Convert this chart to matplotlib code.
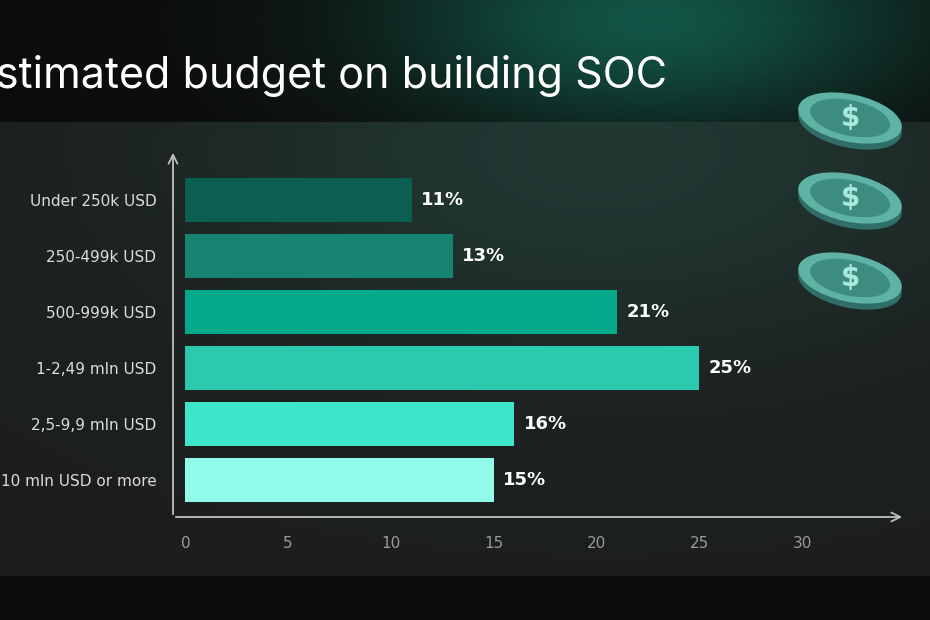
import numpy as np
import matplotlib.pyplot as plt
from matplotlib.patches import Ellipse, FancyArrowPatch

categories = ["Under 250k USD", "250-499k USD", "500-999k USD",
              "1-2,49 mln USD", "2,5-9,9 mln USD", "10 mln USD or more"]
values = [11, 13, 21, 25, 16, 15]
colors = ["#0b5f50", "#168470", "#03a98b", "#2bcaae", "#3ee6c9", "#90fbe8"]
xticks = [0, 5, 10, 15, 20, 25, 30]

W, H = 930, 620
fig = plt.figure(figsize=(9.3, 6.2), dpi=100)

# background
bg = fig.add_axes([0, 0, 1, 1])
yy, xx = np.mgrid[0:H, 0:W]
img = np.zeros((H, W, 3))
img[:] = np.array([0.05, 0.05, 0.05])
glow = np.exp(-((xx - 650) / 260.0) ** 2 - ((yy - 20) / 110.0) ** 2)
img += glow[..., None] * np.array([0.02, 0.28, 0.22])
panel = (yy >= 122) & (yy <= 575)
pg = np.exp(-((xx - 600) / 400.0) ** 2 - ((yy - 150) / 200.0) ** 2)
img[panel] = (np.array([0.11, 0.12, 0.12]) + pg[..., None] * np.array([0.02, 0.1, 0.08]))[panel]
bg.imshow(np.clip(img, 0, 1), extent=[0, W, H, 0], aspect="auto")
bg.set_xlim(0, W)
bg.set_ylim(H, 0)
bg.axis("off")
bg.text(-30, 88, "Estimated budget on building SOC", color="white",
        fontsize=31, fontfamily="Inter", va="baseline", ha="left")
# coins
for cy in [118, 198, 278]:
    bg.add_patch(Ellipse((850, cy + 6), 104, 46, angle=12, color="#2f6f66"))
    bg.add_patch(Ellipse((850, cy), 104, 46, angle=12, color="#5fb3a5"))
    bg.add_patch(Ellipse((850, cy), 80, 34, angle=12, color="#3e8c80"))
    bg.text(850, cy, "$", color="#a8e8dc", fontsize=20, ha="center", va="center",
            fontweight="bold")

ax = fig.add_axes([173 / W, 1 - 517 / H, (905 - 173) / W, (517 - 150) / H])
ax.patch.set_alpha(0)
y = np.arange(len(categories))
ax.barh(y, values, height=0.79, color=colors)
for yi, v in zip(y, values):
    ax.text(v + 0.45, yi, f"{v}%", color="white", fontsize=13, fontweight="bold",
            va="center", ha="left")
ax.set_xlim(-0.6, 35)
ax.set_ylim(5.66, -0.89)
ax.set_yticks(y)
ax.set_yticklabels(categories, color="#dcdcdc", fontsize=11)
ax.set_xticks(xticks)
ax.set_xticklabels([str(t) for t in xticks], color="#9a9a9a", fontsize=11)
ax.tick_params(length=0, pad=12)
ax.tick_params(axis="x", pad=14)
for s in ax.spines.values():
    s.set_visible(False)
arrow_kw = dict(arrowstyle="->", color="#bfbfbf", lw=1.3, mutation_scale=16)
ax.add_patch(FancyArrowPatch((-0.6, 5.66), (-0.6, -0.89), clip_on=False, **arrow_kw))
ax.add_patch(FancyArrowPatch((-0.6, 5.66), (35, 5.66), clip_on=False, **arrow_kw))

fig.savefig("out.png", dpi=100)
